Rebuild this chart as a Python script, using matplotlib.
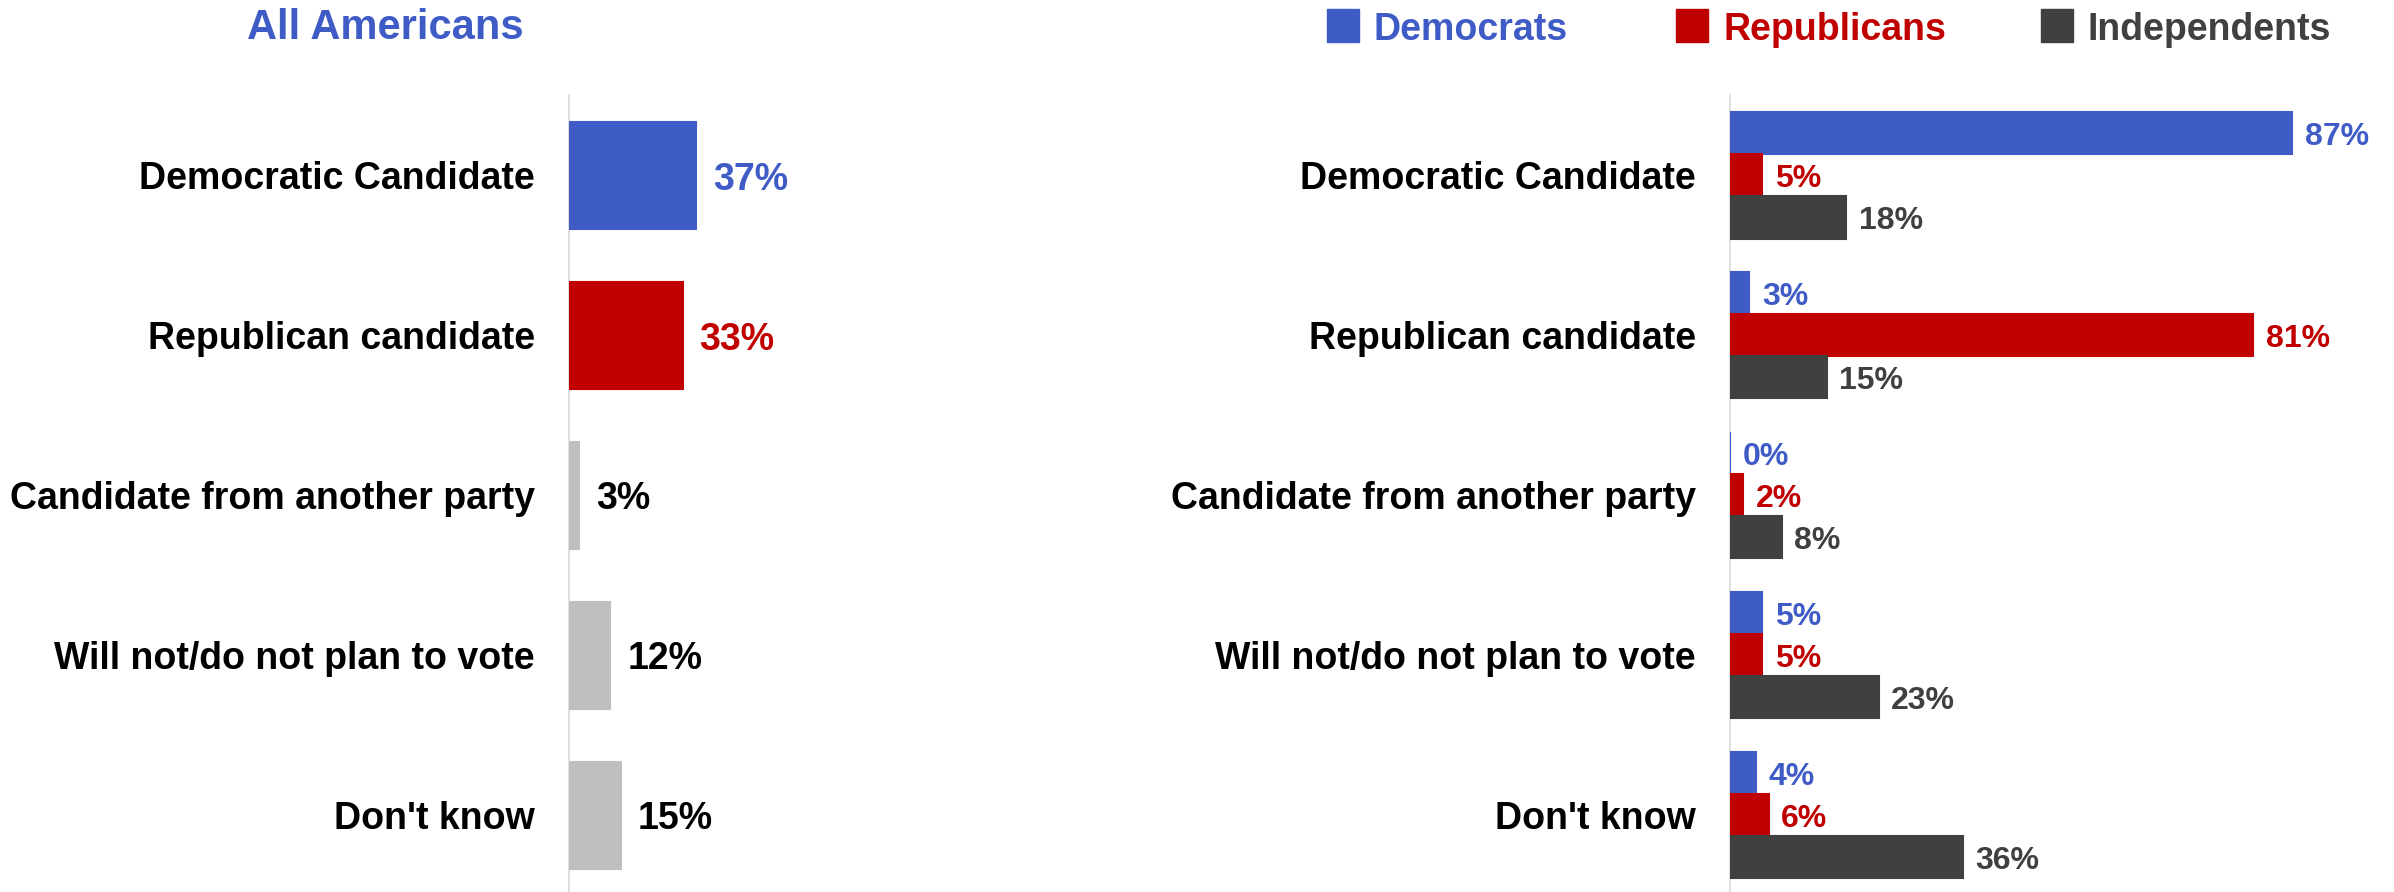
import matplotlib
matplotlib.use("Agg")
import matplotlib.pyplot as plt
from matplotlib.patches import Rectangle

plt.rcParams['font.family'] = ['Liberation Sans', 'DejaVu Sans']
plt.rcParams['font.weight'] = 'bold'

categories = ["Democratic Candidate", "Republican candidate", "Candidate from another party",
              "Will not/do not plan to vote", "Don't know"]
all_americans = [37, 33, 3, 12, 15]
democrats = [87, 3, 0, 5, 4]
republicans = [5, 81, 2, 5, 6]
independents = [18, 15, 8, 23, 36]
series_names = ["Democrats", "Republicans", "Independents"]

BLUE = "#3F5CC6"
RED = "#C00000"
DARK = "#404040"
LIGHT = "#BFBFBF"
AXIS = "#D9D9D9"
left_colors = [BLUE, RED, LIGHT, LIGHT, LIGHT]
left_label_colors = [BLUE, RED, "black", "black", "black"]

W, H = 2394, 892
fig = plt.figure(figsize=(W / 100, H / 100), dpi=100)

def px_axes(x0, x1, ytop, ybot):
    return fig.add_axes([x0 / W, 1 - ybot / H, (x1 - x0) / W, (ybot - ytop) / H])

YLIM = (4.481, -0.5)

def style(ax):
    ax.set_xlim(0, 100)
    ax.set_ylim(*YLIM)
    for s in ["top", "right", "bottom"]:
        ax.spines[s].set_visible(False)
    ax.spines["left"].set_color(AXIS)
    ax.spines["left"].set_linewidth(1.2)
    ax.spines["left"].set_zorder(0.5)
    ax.set_xticks([])
    ax.set_yticks(range(len(categories)))
    ax.set_yticklabels(categories, fontsize=27, fontweight='bold', color='black')
    ax.tick_params(axis='y', length=0, pad=24.5)
    ax.patch.set_visible(False)

# Left panel
axL = px_axes(569, 913, 95.5, 892)
style(axL)
yl = list(range(len(categories)))
axL.barh(yl, all_americans, height=0.675, color=left_colors, edgecolor=left_colors,
         linewidth=0.8, zorder=3)
for i, v in enumerate(all_americans):
    axL.annotate(f"{v}%", xy=(v, i), xytext=(12.2, -3), textcoords='offset points',
                 ha='left', va='center', fontsize=27, fontweight='bold',
                 color=left_label_colors[i], annotation_clip=False)

# Right panel
axR = px_axes(1730, 2376, 95.5, 892)
style(axR)
bh = 0.263
for k, (vals, col, lcol) in enumerate([(democrats, BLUE, BLUE), (republicans, RED, RED),
                                        (independents, DARK, DARK)]):
    ys = [i + (k - 1) * bh for i in range(len(categories))]
    axR.barh(ys, vals, height=bh, color=col, edgecolor=col, linewidth=1.5, zorder=3)
    for y, v in zip(ys, vals):
        axR.annotate(f"{v}%", xy=(v, y), xytext=(9, -2.5), textcoords='offset points',
                     ha='left', va='center', fontsize=23, fontweight='bold',
                     color=lcol, annotation_clip=False)

# Title
fig.text(385 / W, 1 - 39 / H, "All Americans", ha='center', va='baseline',
         fontsize=30, fontweight='bold', color=BLUE)

# Legend
leg_sq_x = [1327, 1676, 2041]
leg_txt_x = [1373, 1723, 2087]
leg_cols = [BLUE, RED, DARK]
for sx, tx, name, col in zip(leg_sq_x, leg_txt_x, series_names, leg_cols):
    fig.patches.append(Rectangle((sx / W, 1 - 42 / H), 32 / W, 33 / H,
                                 transform=fig.transFigure, color=col))
    fig.text(tx / W, 1 - 40 / H, name, ha='left', va='baseline',
             fontsize=27, fontweight='bold', color=col)

fig.savefig("out.png", dpi=100)
